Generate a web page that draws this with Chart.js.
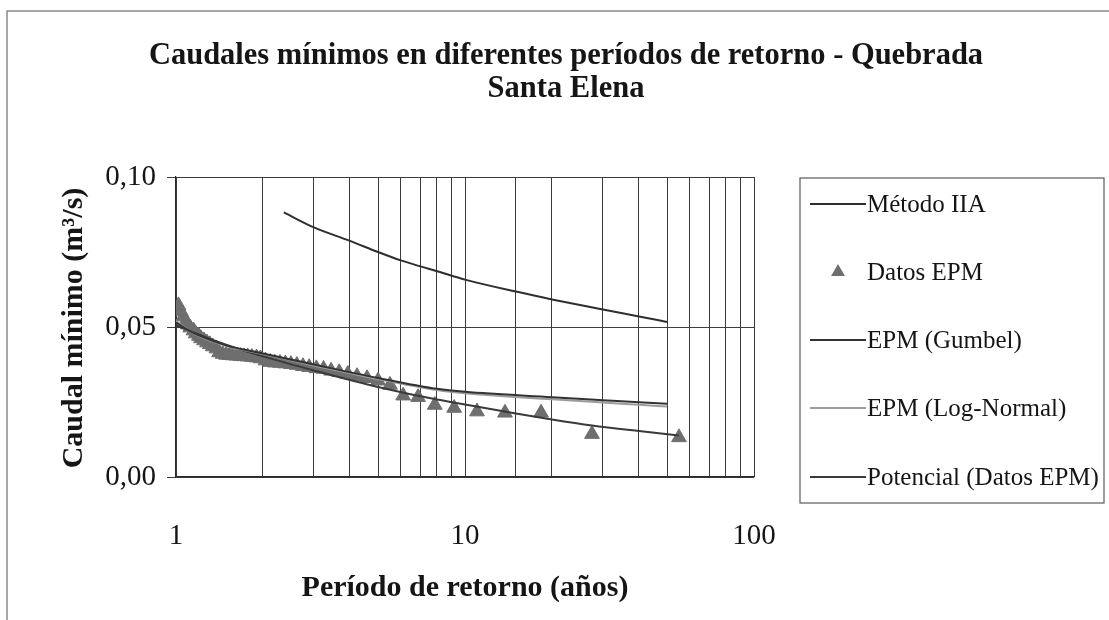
<!DOCTYPE html>
<html>
<head>
<meta charset="utf-8">
<style>
  html, body { margin: 0; padding: 0; background: #ffffff; }
  #wrap { width: 1109px; height: 620px; position: relative; }
</style>
<script src="https://cdn.jsdelivr.net/npm/chart.js@4.4.1/dist/chart.umd.min.js"></script>
</head>
<body>
<div id="wrap"><canvas id="c" width="1109" height="620"></canvas></div>
<script>
// ---- Texts ----
const titleLines = ['Caudales mínimos en diferentes períodos de retorno - Quebrada', 'Santa Elena'];
const xAxisTitle = 'Período de retorno (años)';
const yAxisTitle = 'Caudal mínimo (m³/s)';
const xTickLabels = { 1: '1', 10: '10', 100: '100' };
const yTickValues = [0, 0.05, 0.10];
const yTickLabels = ['0,00', '0,05', '0,10'];
const seriesNames = ['Método IIA', 'Datos EPM', 'EPM (Gumbel)', 'EPM (Log-Normal)', 'Potencial (Datos EPM)'];

// ---- Método IIA (return period in years, flow in m3/s) ----
const iiaT = [2.36, 3, 4, 5, 6, 7, 8, 10, 15, 20, 30, 40, 50];
const iiaQ = [0.0882, 0.0832, 0.0787, 0.0750, 0.0722, 0.0702, 0.0686, 0.0658, 0.0618, 0.0592, 0.0558, 0.0535, 0.0517];

// ---- Datos EPM (observed minimum flows, ranked) ----
const epmT = [55, 27.5, 18.33, 13.75, 11, 9.17, 7.86, 6.88, 6.11, 5.5,
              5, 4.58, 4.23, 3.93, 3.67, 3.44, 3.24, 3.06, 2.89, 2.75,
              2.62, 2.5, 2.39, 2.29, 2.2, 2.12, 2.04, 1.96, 1.9, 1.83,
              1.77, 1.72, 1.67, 1.62, 1.57, 1.53, 1.49, 1.45, 1.41, 1.38,
              1.34, 1.31, 1.28, 1.25, 1.22, 1.2, 1.17, 1.15, 1.12, 1.1,
              1.08, 1.06, 1.04, 1.02];
const epmQ = [0.0132, 0.0143, 0.0214, 0.0214, 0.0218, 0.0230, 0.0240, 0.0266, 0.0271, 0.0307,
              0.0321, 0.0329, 0.0336, 0.0343, 0.0349, 0.0354, 0.0360, 0.0362, 0.0366, 0.0369,
              0.0373, 0.0376, 0.0378, 0.0380, 0.0381, 0.0383, 0.0388, 0.0395, 0.0398, 0.0400,
              0.0401, 0.0402, 0.0403, 0.0404, 0.0405, 0.0406, 0.0407, 0.0410, 0.0415, 0.0428,
              0.0435, 0.0442, 0.0448, 0.0455, 0.0462, 0.0470, 0.0478, 0.0488, 0.0498, 0.0508,
              0.0518, 0.0535, 0.0552, 0.0572];

// ---- EPM (Gumbel) ----
const gumT = [1, 1.1, 1.2, 1.5, 2, 3, 5, 8, 10, 20, 30, 40, 50];
const gumQ = [0.0515, 0.0490, 0.0472, 0.0438, 0.0412, 0.0375, 0.0330, 0.0294, 0.0284, 0.0266, 0.0256, 0.0249, 0.0244];

// ---- EPM (Log-Normal) ----
const lnT = [1, 1.1, 1.2, 1.5, 2, 3, 5, 8, 10, 20, 30, 40, 50];
const lnQ = [0.0520, 0.0490, 0.0470, 0.0436, 0.0410, 0.0372, 0.0326, 0.0290, 0.0279, 0.0259, 0.0248, 0.0241, 0.0235];

// ---- Potencial (Datos EPM) trend ----
const potT = [1, 1.5, 2, 3, 5, 8, 10, 15, 20, 27.5, 40, 55];
const potQ = [0.0505, 0.0440, 0.0402, 0.0355, 0.0300, 0.0258, 0.0242, 0.0212, 0.0192, 0.0172, 0.0153, 0.0138];

const serif = "'Liberation Serif', 'Times New Roman', serif";
const ink = '#151515';

const pts = (xs, ys) => xs.map((x, i) => ({ x: x, y: ys[i] }));

// Plot frame in canvas pixels
const frame = { left: 176, right: 754, top: 177, bottom: 477 };

// Page border, title, axis titles and legend box
const decor = {
  id: 'decor',
  beforeDraw(chart) {
    const ctx = chart.ctx;
    ctx.save();
    ctx.fillStyle = '#ffffff';
    ctx.fillRect(0, 0, chart.width, chart.height);
    ctx.strokeStyle = '#8a8a8a';
    ctx.lineWidth = 1.5;
    ctx.beginPath();
    ctx.moveTo(7, chart.height);
    ctx.lineTo(7, 11);
    ctx.lineTo(chart.width, 11);
    ctx.stroke();
    ctx.restore();
  },
  afterDraw(chart) {
    const ctx = chart.ctx;
    ctx.save();
    ctx.fillStyle = ink;
    ctx.textAlign = 'center';
    ctx.textBaseline = 'middle';
    ctx.font = 'bold 30.5px ' + serif;
    ctx.fillText(titleLines[0], 566, 56);
    ctx.fillText(titleLines[1], 566, 89);

    ctx.font = 'bold 30px ' + serif;
    ctx.fillText(xAxisTitle, 465, 588);

    ctx.save();
    ctx.translate(74, 328);
    ctx.rotate(-Math.PI / 2);
    ctx.fillText(yAxisTitle, 0, 0);
    ctx.restore();

    // Legend
    const lx = 800, ly = 178, lw = 304, lh = 325;
    ctx.strokeStyle = '#5a5a5a';
    ctx.lineWidth = 1.2;
    ctx.strokeRect(lx, ly, lw, lh);
    ctx.font = '25px ' + serif;
    ctx.textAlign = 'left';
    const rows = [204, 272, 340, 408, 477];
    chart.data.datasets.forEach((ds, i) => {
      const y = rows[i];
      if (ds.showLine) {
        ctx.strokeStyle = ds.borderColor;
        ctx.lineWidth = ds.borderWidth;
        ctx.beginPath();
        ctx.moveTo(810, y);
        ctx.lineTo(866, y);
        ctx.stroke();
      } else {
        ctx.fillStyle = ds.backgroundColor;
        ctx.strokeStyle = ds.borderColor;
        Chart.helpers.drawPoint(ctx, { pointStyle: 'triangle', radius: 6, borderWidth: 1 }, 838, y);
      }
      ctx.fillStyle = ink;
      ctx.fillText(ds.label, 867, y + 1);
    });
    ctx.restore();
  }
};

const ctx = document.getElementById('c').getContext('2d');
new Chart(ctx, {
  type: 'scatter',
  data: {
    datasets: [
      { label: seriesNames[0], data: pts(iiaT, iiaQ), showLine: true, borderColor: '#2e2e2e', borderWidth: 2,
        pointRadius: 0, cubicInterpolationMode: 'monotone', order: 1 },
      { label: seriesNames[1], data: pts(epmT, epmQ), showLine: false, pointStyle: 'triangle', pointRadius: 8.5,
        backgroundColor: '#6e6e6e', borderColor: '#6e6e6e', borderWidth: 1, order: 2 },
      { label: seriesNames[2], data: pts(gumT, gumQ), showLine: true, borderColor: '#333333', borderWidth: 2,
        pointRadius: 0, cubicInterpolationMode: 'monotone', order: 1 },
      { label: seriesNames[3], data: pts(lnT, lnQ), showLine: true, borderColor: '#9c9c9c', borderWidth: 2,
        pointRadius: 0, cubicInterpolationMode: 'monotone', order: 1 },
      { label: seriesNames[4], data: pts(potT, potQ), showLine: true, borderColor: '#3a3a3a', borderWidth: 2,
        pointRadius: 0, cubicInterpolationMode: 'monotone', order: 1 }
    ]
  },
  options: {
    responsive: false,
    animation: false,
    layout: { padding: { left: 0, top: frame.top, right: 1109 - frame.right, bottom: 0 } },
    plugins: { legend: { display: false }, title: { display: false }, tooltip: { enabled: false } },
    scales: {
      x: {
        type: 'logarithmic', min: 1, max: 100,
        afterFit(scale) { scale.height = 620 - frame.bottom; },
        border: { display: true, color: '#2a2a2a', width: 1.2 },
        grid: { color: '#3c3c3c', lineWidth: 1, drawTicks: false },
        ticks: {
          autoSkip: false, maxRotation: 0, padding: 42, color: ink,
          font: { family: serif, size: 29 },
          callback: (v) => xTickLabels[v] || ''
        }
      },
      y: {
        min: 0, max: 0.10,
        afterFit(scale) { scale.width = frame.left; },
        afterBuildTicks(scale) { scale.ticks = yTickValues.map(v => ({ value: v })); },
        border: { display: true, color: '#2a2a2a', width: 1.2 },
        grid: { color: '#3c3c3c', lineWidth: 1, tickLength: 9 },
        ticks: {
          padding: 11, color: ink,
          font: { family: serif, size: 29 },
          callback: (v) => { const i = yTickValues.findIndex(t => Math.abs(t - v) < 1e-9); return i >= 0 ? yTickLabels[i] : ''; }
        }
      }
    }
  },
  plugins: [decor]
});
</script>
</body>
</html>
